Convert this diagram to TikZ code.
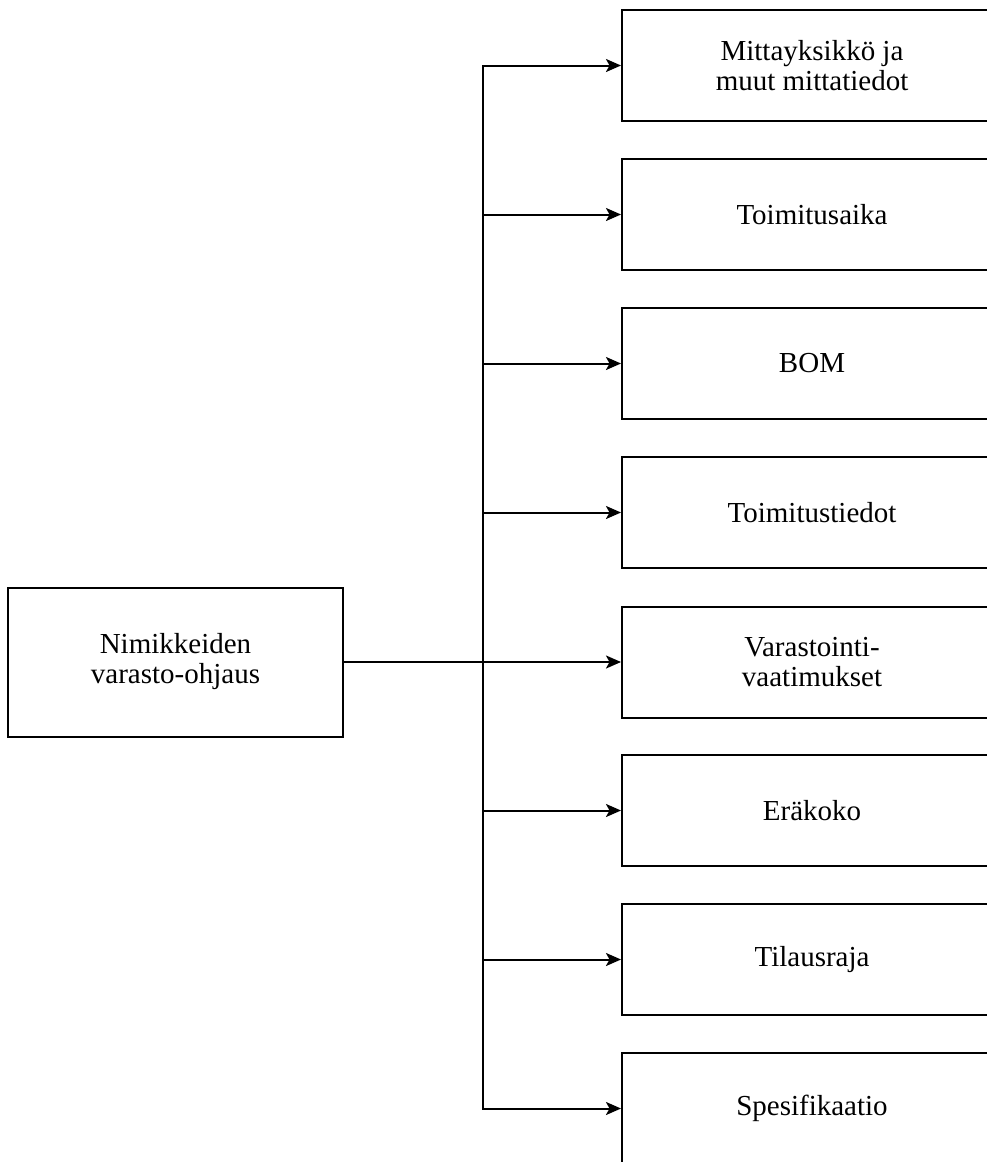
\documentclass[tikz,border=0pt]{standalone}
\usepackage{fontspec}
\setmainfont{Liberation Serif}
\usetikzlibrary{arrows.meta}
\begin{document}
\begin{tikzpicture}[x=1pt,y=-1pt,
  box/.style={draw=black, line width=2pt, fill=white, align=center,
    inner sep=0pt, font=\fontsize{29}{30}\selectfont},
  leaf/.style={box, minimum width=380pt, minimum height=111pt},
  link/.style={line width=2pt, -{Stealth[length=15pt,width=13pt,inset=3.5pt]}}]
  % canvas and clipping frame
  \path[use as bounding box, clip] (0,0) rectangle (987,1162);
  \fill[white] (0,0) rectangle (987,1162);

  % source box
  \node[box, minimum width=335pt, minimum height=149pt] (src) at (175.5,662)
    {Nimikkeiden\\varasto-ohjaus};

  % target boxes
  \node[leaf] (t1) at (812,65.5)   {Mittayksikkö ja\\muut mittatiedot};
  \node[leaf] (t2) at (812,214.5)  {Toimitusaika};
  \node[leaf] (t3) at (812,363.5)  {BOM};
  \node[leaf] (t4) at (812,512.5)  {Toimitustiedot};
  \node[leaf] (t5) at (812,662)    {Varastointi-\\vaatimukset};
  \node[leaf] (t6) at (812,810.5)  {Eräkoko};
  \node[leaf] (t7) at (812,959.5)  {Tilausraja};
  \node[leaf] (t8) at (812,1108.5) {Spesifikaatio};

  % branching trunk
  \coordinate (trunk) at (483,662);
  \draw[link] (src.east) -- (t5.west);
  \foreach \t in {t1,t2,t3,t4,t6,t7,t8}
    \draw[link] (src.east) -- (trunk) |- (\t.west);
\end{tikzpicture}
\end{document}
